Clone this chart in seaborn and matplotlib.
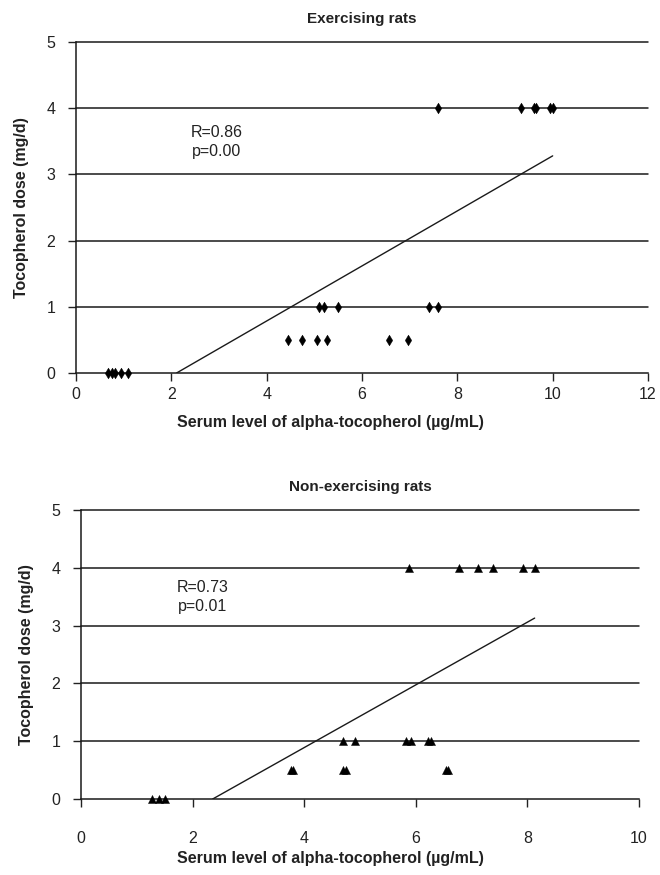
import matplotlib
matplotlib.use("Agg")
import matplotlib.pyplot as plt
import seaborn as sns
import pandas as pd

# ---------------- data ----------------
# Exercising rats
ex_serum = [0.68, 0.75, 0.82, 0.94, 1.10,
            4.44, 4.75, 5.06, 5.27, 6.56, 6.97,
            5.10, 5.21, 5.50, 7.41, 7.60,
            7.60, 9.33, 9.60, 9.65, 9.95, 10.00]
ex_dose = [0, 0, 0, 0, 0,
           0.5, 0.5, 0.5, 0.5, 0.5, 0.5,
           1, 1, 1, 1, 1,
           4, 4, 4, 4, 4, 4]
ex_fit_x = [2.11, 10.0]
ex_fit_y = [0.0, 3.28]
ex_text = "R=0.86\np=0.00"

# Non-exercising rats
nex_serum = [1.27, 1.39, 1.51,
             3.76, 3.80, 4.69, 4.75, 6.54, 6.58,
             4.69, 4.91, 5.82, 5.91, 6.21, 6.27,
             5.87, 6.77, 7.11, 7.38, 7.92, 8.13]
nex_dose = [0, 0, 0,
            0.5, 0.5, 0.5, 0.5, 0.5, 0.5,
            1, 1, 1, 1, 1, 1,
            4, 4, 4, 4, 4, 4]
nex_fit_x = [2.36, 8.13]
nex_fit_y = [0.0, 3.13]
nex_text = "R=0.73\np=0.01"

titles = ["Exercising rats", "Non-exercising rats"]
xlabel = "Serum level of alpha-tocopherol (\u00b5g/mL)"
ylabel = "Tocopherol dose (mg/d)"
y_ticks = [0, 1, 2, 3, 4, 5]
ex_xticks = [0, 2, 4, 6, 8, 10, 12]
nex_xticks = [0, 2, 4, 6, 8, 10]

# ---------------- style ----------------
sns.set_theme(style="white")
plt.rcParams["font.family"] = ["Liberation Sans Narrow", "Liberation Sans", "DejaVu Sans"]
plt.rcParams["text.color"] = "#222222"
plt.rcParams["axes.labelcolor"] = "#222222"
plt.rcParams["xtick.color"] = "#222222"
plt.rcParams["ytick.color"] = "#222222"

fig = plt.figure(figsize=(6.6, 8.75), dpi=100)
ax1 = fig.add_axes([76 / 660, 1 - 373 / 875, 572 / 660, 331 / 875])
ax2 = fig.add_axes([81 / 660, 1 - 799 / 875, 558 / 660, 289 / 875])

panels = [
    (ax1, ex_serum, ex_dose, ex_fit_x, ex_fit_y, ex_text, "d", 30, ex_xticks, 12, (2.95, 3.49), 4, 423),
    (ax2, nex_serum, nex_dose, nex_fit_x, nex_fit_y, nex_text, "^", 34, nex_xticks, 10, (2.18, 3.5), 17, 858),
]

for i, (ax, xs, ys, fx, fy, txt, mk, ms, xt, xmax, tpos, pad, xlab_y) in enumerate(panels):
    df = pd.DataFrame({"serum": xs, "dose": ys})
    fit = pd.DataFrame({"x": fx, "y": fy})
    for yv in y_ticks[1:]:
        ax.axhline(yv, color="#1a1a1a", lw=1.1, zorder=1, clip_on=False)
    sns.lineplot(data=fit, x="x", y="y", ax=ax, color="#1a1a1a", lw=1.0, zorder=2)
    sns.scatterplot(data=df, x="serum", y="dose", ax=ax, marker=mk, s=ms,
                    color="black", edgecolor="black", linewidth=0.3,
                    zorder=3, clip_on=False)
    ax.set_xlim(0, xmax)
    ax.set_ylim(0, 5)
    ax.set_xticks(xt)
    ax.set_yticks(y_ticks)
    ax.tick_params(axis="x", direction="out", length=6, width=1, pad=pad,
                   labelsize=11.5, bottom=True)
    ax.tick_params(axis="y", direction="out", length=6, width=1, pad=9,
                   labelsize=11.5, left=True)
    for s in ["top", "right"]:
        ax.spines[s].set_visible(False)
    for s in ["left", "bottom"]:
        ax.spines[s].set_color("#1a1a1a")
        ax.spines[s].set_linewidth(1.1)
    ax.set_xlabel("")
    ax.set_ylabel(ylabel, fontsize=11.5, fontweight="bold", labelpad=12)
    ax.set_title(titles[i], fontsize=11, fontweight="bold", pad=14)
    ax.text(tpos[0], tpos[1], txt, ha="center", va="center", fontsize=11.5,
            linespacing=1.3)
    fig.text(0.5, 1 - xlab_y / 875, xlabel,
             ha="center", va="center", fontsize=11.5, fontweight="bold")

fig.savefig("out.png", dpi=100)
